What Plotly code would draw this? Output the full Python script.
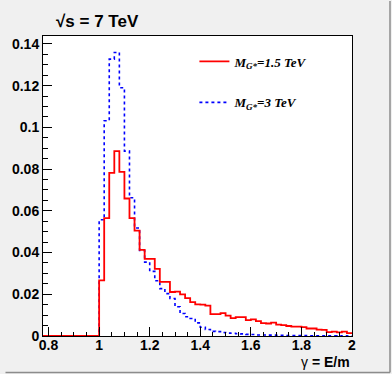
import plotly.graph_objects as go

# binning: 0.02 wide bins from 1.0 to 2.0, axis starts a bit left of 0.8
bin_lo = 1.0
bin_w = 0.02
x_min, x_max = 0.778, 2.0

# M_G* = 1.5 TeV (red, solid)
red_vals = [0.0267, 0.0565, 0.0782, 0.0886, 0.0787, 0.0659, 0.0565, 0.0505, 0.0413, 0.0370,
            0.0370, 0.0322, 0.0259, 0.0259, 0.0211, 0.0213, 0.0200, 0.0182, 0.0162, 0.0152,
            0.0150, 0.0146, 0.0105, 0.0105, 0.0110, 0.0098, 0.0086, 0.0090, 0.0090, 0.0076,
            0.0080, 0.0071, 0.0062, 0.0060, 0.0064, 0.0055, 0.0052, 0.0048, 0.0045, 0.0045,
            0.0043, 0.0036, 0.0036, 0.0031, 0.0029, 0.0019, 0.0021, 0.0017, 0.0021, 0.0014]

# M_G* = 3 TeV (blue, dotted)
blue_vals = [0.0557, 0.1032, 0.1327, 0.1359, 0.1190, 0.0886, 0.0663, 0.0518, 0.0410, 0.0354,
             0.0310, 0.0265, 0.0227, 0.0203, 0.0180, 0.0140, 0.0108, 0.0092, 0.0084, 0.0063,
             0.0042, 0.0031, 0.0022, 0.0021, 0.0017, 0.0014, 0.0013, 0.0011, 0.0010, 0.0008,
             0.0007, 0.0005, 0.0005, 0.0004, 0.0004, 0.0003, 0.0003, 0.0002, 0.0002, 0.0002,
             0.0002, 0.0001, 0.0001, 0.0001, 0.0001, 0.0001, 0.0001, 0.0, 0.0001, 0.0]


def step_xy(vals):
    # histogram outline: empty bins from axis start, then one step per bin
    edges = [round(bin_lo + i * bin_w, 4) for i in range(len(vals) + 1)]
    xs = [x_min] + edges
    ys = [0] + list(vals) + [vals[-1]]
    return xs, ys


bx, by = step_xy(blue_vals)
rx, ry = step_xy(red_vals)

fig = go.Figure()
# blue first so the red histogram is drawn on top, legend order set by legendrank
fig.add_trace(go.Scatter(x=bx, y=by, mode='lines', line_shape='hv',
                         line=dict(color='#0000ff', width=1.6, dash='dot'),
                         name='<i><b>M<sub>G*</sub>=3 TeV</b></i>',
                         legendgroup='b', legendrank=2))
fig.add_trace(go.Scatter(x=rx, y=ry, mode='lines', line_shape='hv',
                         line=dict(color='#ff0000', width=1.8),
                         name='<i><b>M<sub>G*</sub>=1.5 TeV</b></i>',
                         legendgroup='r', legendrank=1))

axis_font = dict(family='Liberation Sans', size=14, color='black', weight='bold')

fig.update_layout(
    width=392, height=374,
    margin=dict(l=39, r=40, t=36, b=38),
    paper_bgcolor='#f0f0f0',
    plot_bgcolor='white',
    showlegend=True,
    legend=dict(x=0.49, y=0.965, xanchor='left', yanchor='top',
                traceorder='grouped', tracegroupgap=21,
                bgcolor='rgba(0,0,0,0)',
                font=dict(family='Liberation Serif', size=13, color='black')),
    xaxis=dict(range=[x_min, x_max], showgrid=False, zeroline=False,
               showline=True, linecolor='black', linewidth=1, mirror=True,
               ticks='inside', ticklen=9, tickcolor='black', dtick=0.2, tick0=0.8,
               minor=dict(ticks='inside', ticklen=4.5, dtick=0.05, tickcolor='black'),
               tickfont=axis_font, ticklabelstandoff=-4),
    yaxis=dict(range=[0, 0.1438], showgrid=False, zeroline=False,
               showline=True, linecolor='black', linewidth=1, mirror=True,
               ticks='inside', ticklen=9, tickcolor='black', dtick=0.02, tick0=0,
               minor=dict(ticks='inside', ticklen=4.5, dtick=0.005, tickcolor='black'),
               tickfont=axis_font),
)

fig.add_annotation(text='<b>√s = 7 TeV</b>', xref='paper', yref='paper',
                   x=0.035, y=1.047, xanchor='left', yanchor='middle', showarrow=False,
                   font=dict(family='Liberation Sans', size=17, color='black'))
fig.add_annotation(text='γ<b> = E/m</b>', xref='paper', yref='paper',
                   x=1.0, y=-0.087, xanchor='right', yanchor='middle', showarrow=False,
                   font=dict(family='Liberation Sans', size=14, color='black'))

# canvas bevel like a ROOT canvas: dark edge on the right and bottom
pw, ph = 313.0, 300.0
fig.add_shape(type='line', xref='paper', yref='paper', layer='above',
              x0=(390.5 - 39) / pw, x1=(390.5 - 39) / pw, y0=(336 - 372.5) / ph, y1=(336 - 1) / ph,
              line=dict(color='#8c8c8c', width=1.5))
fig.add_shape(type='line', xref='paper', yref='paper', layer='above',
              x0=(1 - 39) / pw, x1=(390.5 - 39) / pw, y0=(336 - 372.5) / ph, y1=(336 - 372.5) / ph,
              line=dict(color='#8c8c8c', width=1.5))

# page body has a default 8px margin; drop it so the 392x374 figure fills the window
fig.write_html("out.html", config={'displayModeBar': False},
               post_script="document.body.style.margin='0';")
